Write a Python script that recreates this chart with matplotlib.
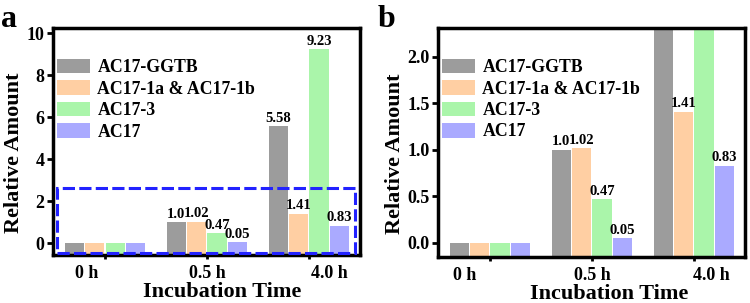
import numpy as np
import matplotlib
matplotlib.use("Agg")
import matplotlib.pyplot as plt
from matplotlib.patches import Rectangle

# data
times = ["0 h", "0.5 h", "4.0 h"]
series = ["AC17-GGTB", "AC17-1a & AC17-1b", "AC17-3", "AC17"]
ggtb = [0.0, 1.0, 5.58]
c1ab = [0.0, 1.02, 1.41]
c3 = [0.0, 0.47, 9.23]
ac17 = [0.0, 0.05, 0.83]
labels_a = [["", "1.0", "5.58"], ["", "1.02", "1.41"], ["", "0.47", "9.23"], ["", "0.05", "0.83"]]
colors = ["#9c9c9c", "#ffcfa3", "#aaf5aa", "#aaaaff"]

plt.rcParams['font.family'] = ['Liberation Serif', 'DejaVu Serif']
plt.rcParams['font.weight'] = 'bold'

fig = plt.figure(figsize=(7.5, 3.03), dpi=100)
ax_a = fig.add_axes([0.0707, 0.158, 0.409, 0.749])
ax_b = fig.add_axes([0.584, 0.152, 0.409, 0.756])

def panel(ax, ylim, yticks, yfmt, shifts, xl_x):
    vals = [ggtb, c1ab, c3, ac17]
    x = np.arange(len(times))
    w = 0.19
    for i, v in enumerate(vals):
        xs = x + (i - 1.5) * (w + 0.01)
        base = ylim[0] - 0.05
        ax.bar(xs, np.array(v) - base, bottom=base, width=w, color=colors[i],
               label=series[i], zorder=2)
        for j in range(len(times)):
            # only label bars whose top is inside the plot
            if labels_a[i][j] and v[j] < ylim[1]:
                ax.text(xs[j], v[j] + (ylim[1] - ylim[0]) * 0.006, labels_a[i][j],
                        ha='center', va='bottom', fontsize=10.5, fontweight='bold',
                        zorder=3)
    ax.set_xlim(-0.51, 2.5)
    ax.set_ylim(*ylim)
    ax.set_yticks(yticks)
    ax.set_yticklabels([yfmt.format(t) for t in yticks], fontsize=13, fontweight='bold')
    # tick marks on the groups, labels a bit off-centre as in the original
    ax.xaxis.remove_overlapping_locs = False
    ax.set_xticks(x)
    ax.set_xticklabels([""] * len(times))
    ax.set_xticks(x + np.array(shifts), minor=True)
    ax.set_xticklabels(times, minor=True, fontsize=13, fontweight='bold')
    ax.tick_params(axis='y', direction='out', length=4, width=2, pad=2)
    ax.tick_params(axis='x', which='major', direction='out', length=3, width=2)
    ax.tick_params(axis='x', which='minor', length=0, pad=7)
    for s in ax.spines.values():
        s.set_linewidth(2.5)
    ax.set_xlabel("Incubation Time", fontsize=16, fontweight='bold', labelpad=0, x=xl_x)
    ax.set_ylabel("Relative Amount", fontsize=16, fontweight='bold', labelpad=2, y=0.45)
    ax.legend(loc='upper left', bbox_to_anchor=(0.0, 0.885), frameon=False,
              handlelength=1.85, handleheight=0.9, handletextpad=0.4,
              labelspacing=0.22, borderaxespad=0.0, borderpad=0.25,
              prop={'family': 'Liberation Serif', 'weight': 'bold', 'size': 12.8})

panel(ax_a, (-0.57, 10.24), [0, 2, 4, 6, 8, 10], "{:g}", [-0.176, 0, 0.206], 0.552)
panel(ax_b, (-0.15, 2.31), [0.0, 0.5, 1.0, 1.5, 2.0], "{:.1f}", [-0.245, 0, 0.176], 0.559)

fig.text(0.002, 0.91, "a", fontsize=23, fontweight='bold', ha='left', va='baseline')
fig.text(0.503, 0.91, "b", fontsize=23, fontweight='bold', ha='left', va='baseline')

# dashed zoom box in panel a
ax_a.add_patch(Rectangle((-0.475, -0.46), 2.925, 3.1, fill=False, edgecolor='#2222ff',
                         linestyle=(0, (4, 1.4)), linewidth=2.2, zorder=4, clip_on=False))

fig.savefig("out.png", dpi=100)
